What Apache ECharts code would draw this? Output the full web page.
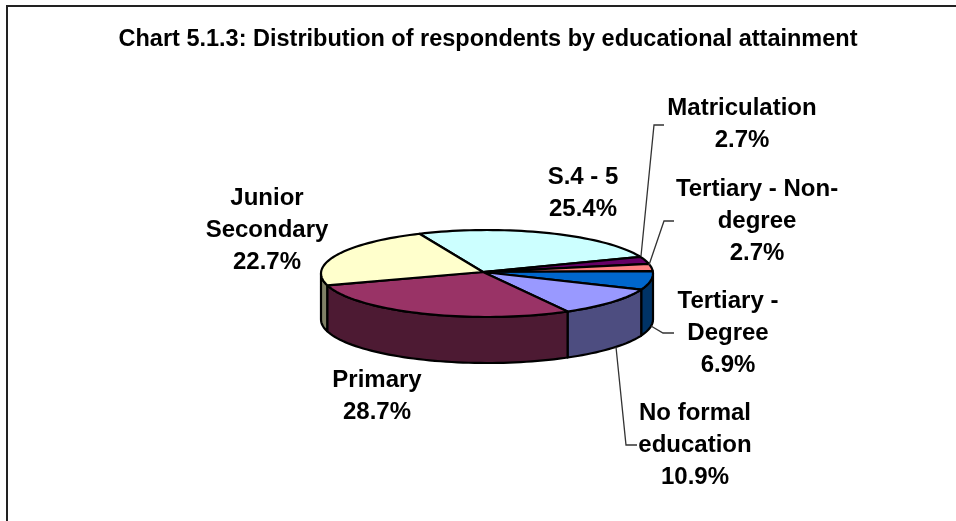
<!DOCTYPE html>
<html>
<head>
<meta charset="utf-8">
<style>html,body{margin:0;padding:0;background:#fff}#c{width:956px;height:521px}</style>
<script src="https://cdn.jsdelivr.net/npm/echarts@6/dist/echarts.min.js"></script>
</head>
<body>
<div id="c"></div>
<script>
var chartTitle = 'Chart 5.1.3: Distribution of respondents by educational attainment';
var categories = ['S.4 - 5','Matriculation','Tertiary - Non-degree','Tertiary - Degree','No formal education','Primary','Junior Secondary'];
var values = [25.4,2.7,2.7,6.9,10.9,28.7,22.7];
var labelNames = [['S.4 - 5'],['Matriculation'],['Tertiary - Non-','degree'],['Tertiary -','Degree'],['No formal','education'],['Primary'],['Junior','Secondary']];
var topColors = ['#CCFFFF','#660066','#FF8080','#0066CC','#9999FF','#993366','#FFFFCC'];
var sideColors = ['#668080','#330033','#804040','#003366','#4D4D80','#4D1A33','#808066'];

var CX=487, CY=273.5, RX=166, RY=43.5, DEPTH=46, START=-24;
var APEX=[483,272];
var labelPos = [[583,193],[742,124],[757,221],[728,333],[695,445],[377,396],[267,230]];
var leaderLines = [
  [[664,125],[654,125],[641,256]],
  [[674,221],[664,221],[649,265]],
  [[674,333],[663,333],[651,326]],
  [[637,445],[626,445],[616,347]]
];

var total = values.reduce(function(a,b){return a+b;},0);
var bounds=[START];
values.forEach(function(v,i){bounds.push(bounds[i]+v/total*360);});
function pt(deg,dy){var r=deg*Math.PI/180;return [CX+RX*Math.sin(r),CY-RY*Math.cos(r)+(dy||0)];}
var seriesData = categories.map(function(n,i){return {name:n,value:values[i]};});

function sideItem(params){
  var i=params.dataIndex, a=Math.max(bounds[i],90), b=Math.min(bounds[i+1],270);
  if(b<=a) return {type:'group',children:[]};
  var p=[],d;
  for(d=a;d<b;d+=2)p.push(pt(d));
  p.push(pt(b));
  for(d=b;d>a;d-=2)p.push(pt(d,DEPTH));
  p.push(pt(a,DEPTH));
  return {type:'polygon',shape:{points:p},style:{fill:sideColors[i],stroke:'#000',lineWidth:2.2,lineJoin:'round'}};
}
function topItem(params){
  var i=params.dataIndex, a=bounds[i], b=bounds[i+1], p=[APEX], d;
  for(d=a;d<b;d+=2)p.push(pt(d));
  p.push(pt(b));
  return {type:'polygon',shape:{points:p},style:{fill:topColors[i],stroke:'#000',lineWidth:2.2,lineJoin:'round'}};
}

var graphics=[
  {type:'rect',shape:{x:7,y:6,width:1000,height:600},style:{fill:'#fff',stroke:'#222',lineWidth:2},z:-1}
];
leaderLines.forEach(function(l){
  graphics.push({type:'polyline',shape:{points:l},style:{fill:null,stroke:'#333',lineWidth:1.3},z:5});
});
categories.forEach(function(n,i){
  graphics.push({type:'text',x:labelPos[i][0],y:labelPos[i][1],z:6,style:{
    text:labelNames[i].concat([values[i].toFixed(1)+'%']).join('\n'),
    x:0,y:0,align:'center',verticalAlign:'middle',
    font:'bold 24px "Liberation Sans", Arial, sans-serif',lineHeight:32,fill:'#000'}});
});

var chart=echarts.init(document.getElementById('c'),null,{renderer:'canvas'});
chart.setOption({
  animation:false,
  backgroundColor:'#fff',
  title:{text:chartTitle,left:483,top:23,textAlign:'center',
    textStyle:{fontFamily:'"Liberation Sans", Arial, sans-serif',fontWeight:'bold',fontSize:23.5,color:'#000'}},
  graphic:graphics,
  series:[
    {type:'custom',coordinateSystem:'none',renderItem:sideItem,data:seriesData,z:2,silent:true},
    {type:'custom',coordinateSystem:'none',renderItem:topItem,data:seriesData,z:3,silent:true}
  ]
});
</script>
</body>
</html>
